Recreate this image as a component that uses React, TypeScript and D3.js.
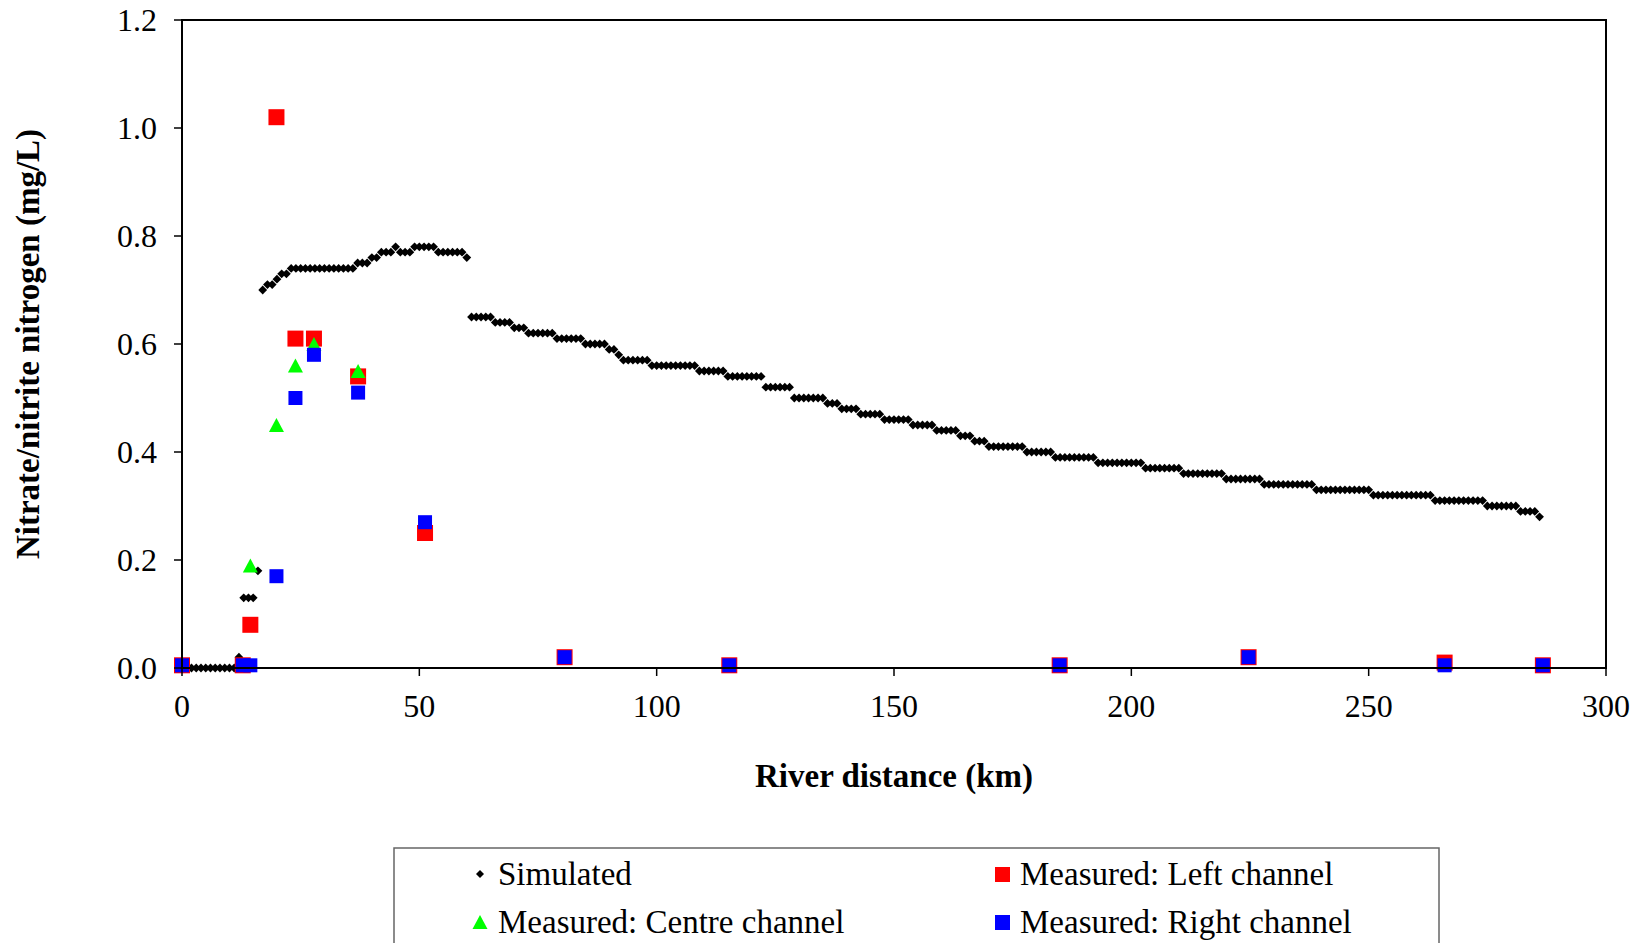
import { useMemo } from "react";
import * as d3 from "d3";

const WIDTH = 1644;
const HEIGHT = 943;
const MARGIN = { top: 20, right: 38, bottom: 275, left: 182 };

// Simulated nitrate/nitrite nitrogen (mg/L), one value per km from km 0
const simulatedValues = [
  0, 0, 0, 0, 0, 0, 0, 0, 0, 0,
  0, 0, 0.02, 0.13, 0.13, 0.13, 0.18, 0.7, 0.71, 0.71,
  0.72, 0.73, 0.73, 0.74, 0.74, 0.74, 0.74, 0.74, 0.74, 0.74,
  0.74, 0.74, 0.74, 0.74, 0.74, 0.74, 0.74, 0.75, 0.75, 0.75,
  0.76, 0.76, 0.77, 0.77, 0.77, 0.78, 0.77, 0.77, 0.77, 0.78,
  0.78, 0.78, 0.78, 0.78, 0.77, 0.77, 0.77, 0.77, 0.77, 0.77,
  0.76, 0.65, 0.65, 0.65, 0.65, 0.65, 0.64, 0.64, 0.64, 0.64,
  0.63, 0.63, 0.63, 0.62, 0.62, 0.62, 0.62, 0.62, 0.62, 0.61,
  0.61, 0.61, 0.61, 0.61, 0.61, 0.6, 0.6, 0.6, 0.6, 0.6,
  0.59, 0.59, 0.58, 0.57, 0.57, 0.57, 0.57, 0.57, 0.57, 0.56,
  0.56, 0.56, 0.56, 0.56, 0.56, 0.56, 0.56, 0.56, 0.56, 0.55,
  0.55, 0.55, 0.55, 0.55, 0.55, 0.54, 0.54, 0.54, 0.54, 0.54,
  0.54, 0.54, 0.54, 0.52, 0.52, 0.52, 0.52, 0.52, 0.52, 0.5,
  0.5, 0.5, 0.5, 0.5, 0.5, 0.5, 0.49, 0.49, 0.49, 0.48,
  0.48, 0.48, 0.48, 0.47, 0.47, 0.47, 0.47, 0.47, 0.46, 0.46,
  0.46, 0.46, 0.46, 0.46, 0.45, 0.45, 0.45, 0.45, 0.45, 0.44,
  0.44, 0.44, 0.44, 0.44, 0.43, 0.43, 0.43, 0.42, 0.42, 0.42,
  0.41, 0.41, 0.41, 0.41, 0.41, 0.41, 0.41, 0.41, 0.4, 0.4,
  0.4, 0.4, 0.4, 0.4, 0.39, 0.39, 0.39, 0.39, 0.39, 0.39,
  0.39, 0.39, 0.39, 0.38, 0.38, 0.38, 0.38, 0.38, 0.38, 0.38,
  0.38, 0.38, 0.38, 0.37, 0.37, 0.37, 0.37, 0.37, 0.37, 0.37,
  0.37, 0.36, 0.36, 0.36, 0.36, 0.36, 0.36, 0.36, 0.36, 0.36,
  0.35, 0.35, 0.35, 0.35, 0.35, 0.35, 0.35, 0.35, 0.34, 0.34,
  0.34, 0.34, 0.34, 0.34, 0.34, 0.34, 0.34, 0.34, 0.34, 0.33,
  0.33, 0.33, 0.33, 0.33, 0.33, 0.33, 0.33, 0.33, 0.33, 0.33,
  0.33, 0.32, 0.32, 0.32, 0.32, 0.32, 0.32, 0.32, 0.32, 0.32,
  0.32, 0.32, 0.32, 0.32, 0.31, 0.31, 0.31, 0.31, 0.31, 0.31,
  0.31, 0.31, 0.31, 0.31, 0.31, 0.3, 0.3, 0.3, 0.3, 0.3,
  0.3, 0.3, 0.29, 0.29, 0.29, 0.29, 0.28,
];

// Measured samples
const leftKm = [0, 12.8, 14.4, 19.9, 23.9, 27.8, 37.1, 51.2, 80.6, 115.3, 184.9, 224.7, 266, 286.7];
const leftValues = [0.005, 0.005, 0.08, 1.02, 0.61, 0.61, 0.54, 0.25, 0.02, 0.005, 0.005, 0.02, 0.01, 0.005];

const centreKm = [14.4, 19.9, 23.9, 27.8, 37.1];
const centreValues = [0.19, 0.45, 0.56, 0.6, 0.55];

const rightKm = [0, 12.8, 14.4, 19.9, 23.9, 27.8, 37.1, 51.2, 80.6, 115.3, 184.9, 224.7, 266, 286.7];
const rightValues = [0.005, 0.005, 0.005, 0.17, 0.5, 0.58, 0.51, 0.27, 0.02, 0.005, 0.005, 0.02, 0.005, 0.005];

const xTicks = [0, 50, 100, 150, 200, 250, 300];
const yTicks = [0, 0.2, 0.4, 0.6, 0.8, 1.0, 1.2];

const FONT = "'Liberation Serif', 'Times New Roman', serif";

const diamond = (r: number) => `M0,${-r}L${r},0L0,${r}L${-r},0Z`;
const triangle = (w: number, h: number) => `M0,${-h / 2}L${w / 2},${h / 2}L${-w / 2},${h / 2}Z`;

const App = () => {
  const boundsWidth = WIDTH - MARGIN.left - MARGIN.right;
  const boundsHeight = HEIGHT - MARGIN.top - MARGIN.bottom;

  const xScale = useMemo(
    () => d3.scaleLinear().domain([0, 300]).range([0, boundsWidth]),
    [boundsWidth]
  );
  const yScale = useMemo(
    () => d3.scaleLinear().domain([0, 1.2]).range([boundsHeight, 0]),
    [boundsHeight]
  );

  return (
    <svg
      width={WIDTH}
      height={HEIGHT}
      style={{ position: "absolute", left: 0, top: 0, background: "#fff" }}
      fontFamily={FONT}
    >
      <g transform={`translate(${MARGIN.left},${MARGIN.top})`}>
        {/* simulated */}
        {simulatedValues.map((v, i) => (
          <path
            key={`s${i}`}
            d={diamond(4.4)}
            transform={`translate(${xScale(i)},${yScale(v)})`}
            fill="#000"
          />
        ))}
        {/* left channel */}
        {leftValues.map((v, i) => (
          <rect
            key={`l${i}`}
            x={xScale(leftKm[i]) - 8}
            y={yScale(v) - 8}
            width={16}
            height={16}
            fill="#ff0000"
          />
        ))}
        {/* centre channel */}
        {centreValues.map((v, i) => (
          <path
            key={`c${i}`}
            d={triangle(15, 14)}
            transform={`translate(${xScale(centreKm[i])},${yScale(v)})`}
            fill="#00ff00"
          />
        ))}
        {/* right channel */}
        {rightValues.map((v, i) => (
          <rect
            key={`r${i}`}
            x={xScale(rightKm[i]) - 7}
            y={yScale(v) - 7}
            width={14}
            height={14}
            fill="#0000ff"
          />
        ))}

        {/* frame */}
        <rect
          x={0}
          y={0}
          width={boundsWidth}
          height={boundsHeight}
          fill="none"
          stroke="#000"
          strokeWidth={2}
        />

        {/* y axis */}
        {yTicks.map((t) => (
          <g key={`yt${t}`} transform={`translate(0,${yScale(t)})`}>
            <line x1={-8} x2={0} stroke="#000" strokeWidth={1.5} />
            <text x={-25} dy="0.34em" textAnchor="end" fontSize={32}>
              {t.toFixed(1)}
            </text>
          </g>
        ))}

        {/* x axis */}
        {xTicks.map((t) => (
          <g key={`xt${t}`} transform={`translate(${xScale(t)},${boundsHeight})`}>
            <line y1={0} y2={8} stroke="#000" strokeWidth={1.5} />
            <text y={49} textAnchor="middle" fontSize={32}>
              {t}
            </text>
          </g>
        ))}

        <text
          x={boundsWidth / 2}
          y={boundsHeight + 119}
          textAnchor="middle"
          fontSize={33}
          fontWeight="bold"
        >
          River distance (km)
        </text>
        <text
          transform={`translate(${-154},${boundsHeight / 2}) rotate(-90)`}
          textAnchor="middle"
          dy="0.34em"
          fontSize={33}
          fontWeight="bold"
        >
          Nitrate/nitrite nitrogen (mg/L)
        </text>
      </g>

      {/* legend */}
      <g transform="translate(394,848)">
        <rect x={0} y={0} width={1045} height={120} fill="#fff" stroke="#666" strokeWidth={1.5} />
        <path d={diamond(4)} transform="translate(86,26)" fill="#000" />
        <text x={104} y={26} dy="0.34em" fontSize={33}>
          Simulated
        </text>
        <rect x={601} y={19} width={15} height={15} fill="#ff0000" />
        <text x={626} y={26} dy="0.34em" fontSize={33}>
          Measured: Left channel
        </text>
        <path d={triangle(15, 14)} transform="translate(86,74)" fill="#00ff00" />
        <text x={104} y={74} dy="0.34em" fontSize={33}>
          Measured: Centre channel
        </text>
        <rect x={601} y={67} width={15} height={15} fill="#0000ff" />
        <text x={626} y={74} dy="0.34em" fontSize={33}>
          Measured: Right channel
        </text>
      </g>
    </svg>
  );
};

export default App;
